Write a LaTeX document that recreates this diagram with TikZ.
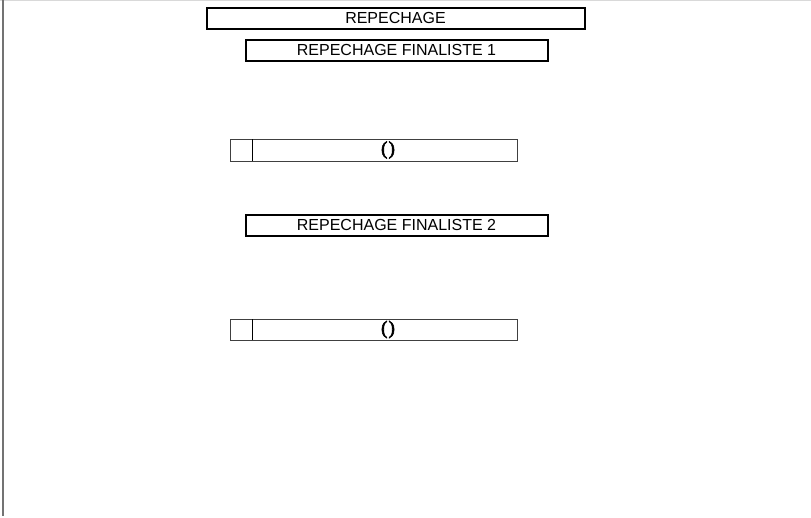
\documentclass[tikz,border=0pt]{standalone}
\usepackage{fontspec}
\setmainfont{Liberation Sans}
\newfontfamily\serifb{Liberation Serif}[FakeBold=3]
\newcommand{\titlefont}{\fontsize{16}{18}\selectfont}
\newcommand{\rowfont}{\serifb\fontsize{19}{21}\selectfont}
\begin{document}
\begin{tikzpicture}[x=1pt,y=-1pt,
  titlebox/.style={draw=black,line width=2pt,inner sep=0pt},
  rowbox/.style={draw=black!75,line width=0.9pt},
  rowtxt/.style={inner sep=0pt}]
\useasboundingbox (0,0) rectangle (811,517);
\fill[white] (0,0) rectangle (811,517);
\draw[black!15,line width=1pt] (0,0.5) -- (811,0.5);
\draw[black!55,line width=1.8pt] (3,0) -- (3,516);
% titles
\node[titlebox,minimum width=378pt,minimum height=21pt] (rep) at (395.5,18) {\titlefont REPECHAGE};
\node[titlebox,minimum width=302pt,minimum height=21pt] (f1) at (396.5,50) {\titlefont REPECHAGE FINALISTE 1};
\node[titlebox,minimum width=302pt,minimum height=21pt] (f2) at (396.5,225) {\titlefont REPECHAGE FINALISTE 2};
% row 1
\draw[rowbox] (230,139) rectangle (517,161);
\draw[black,line width=1pt] (252,139) -- (252,161);
\node[rowtxt] (r1) at (388,150) {\rowfont (\kern1.2pt)};
% row 2
\draw[rowbox] (230,319) rectangle (517,340);
\draw[black,line width=1pt] (252,319) -- (252,340);
\node[rowtxt] (r2) at (388,329.5) {\rowfont (\kern1.2pt)};
\end{tikzpicture}
\end{document}
